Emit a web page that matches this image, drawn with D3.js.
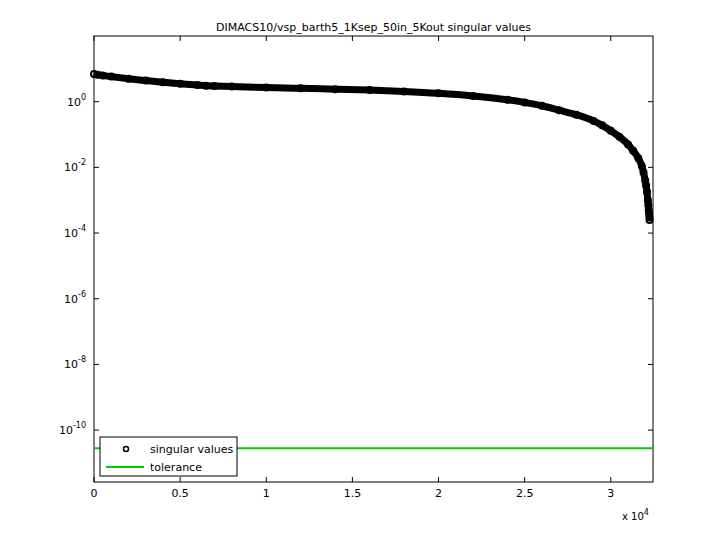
<!DOCTYPE html><html><head><meta charset="utf-8"><script src="https://cdn.jsdelivr.net/npm/d3@7"></script>
<style>body{margin:0;background:#fff}text{font-family:"DejaVu Sans",Arial,sans-serif}</style></head><body><svg id="c" width="720" height="540"></svg>
<script>
const title="DIMACS10/vsp_barth5_1Ksep_50in_5Kout singular values";
const idx=[0,200,500,1000,2000,3000,4000,5000,6000,6500,7000,8000,10000,12000,14000,16000,18000,20000,22000,24000,25000,26000,27000,28000,29000,29500,30000,30500,31000,31300,31600,31800,31900,32000,32050,32100,32150,32180,32200,32220,32240,32250];
const sv=[7,6.6,6.3,5.8,5.0,4.4,3.9,3.5,3.2,3.05,3.0,2.9,2.7,2.55,2.4,2.25,2.05,1.8,1.5,1.15,0.95,0.75,0.55,0.4,0.26,0.19,0.13,0.085,0.05,0.032,0.019,0.011,0.007,0.004,0.0028,0.0018,0.001,0.0007,0.0005,0.0004,0.0003,0.00025];
const tol=2.8e-11;
const xTicks=[0,5000,10000,15000,20000,25000,30000];
const yTicks=[-10,-8,-6,-4,-2,0];
const svg=d3.select("#c");
const L=94,R=653,T=36,B=482;
const x=d3.scaleLinear().domain([0,32450]).range([L,R]);
const y=d3.scaleLog().domain([10**-11.58,100]).range([B,T]);
svg.append("rect").attr("x",L).attr("y",T).attr("width",R-L).attr("height",B-T).attr("fill","#fff").attr("stroke","#000");
const g=svg.append("g");
xTicks.forEach(t=>{g.append("line").attr("x1",x(t)).attr("x2",x(t)).attr("y1",B).attr("y2",B-5).attr("stroke","#000");
g.append("line").attr("x1",x(t)).attr("x2",x(t)).attr("y1",T).attr("y2",T+5).attr("stroke","#000");
g.append("text").attr("x",x(t)).attr("y",B+15).attr("text-anchor","middle").attr("font-size",11).text(t/1e4);});
yTicks.forEach(e=>{const v=10**e;g.append("line").attr("x1",L).attr("x2",L+5).attr("y1",y(v)).attr("y2",y(v)).attr("stroke","#000");
g.append("line").attr("x1",R).attr("x2",R-5).attr("y1",y(v)).attr("y2",y(v)).attr("stroke","#000");
const tx=g.append("text").attr("x",L-8).attr("y",y(v)+4).attr("text-anchor","end").attr("font-size",11);
tx.append("tspan").text("10");tx.append("tspan").attr("dy",-6).attr("font-size",8).text(e);});
svg.append("text").attr("x",622).attr("y",520).attr("font-size",10).text("x 10").append("tspan").attr("dy",-5).attr("font-size",8).text("4");
svg.append("text").attr("x",(L+R)/2).attr("y",31).attr("text-anchor","middle").attr("font-size",11).text(title);
svg.append("line").attr("x1",L).attr("x2",R).attr("y1",y(tol)).attr("y2",y(tol)).attr("stroke","#00cc00").attr("stroke-width",2);
const pts=idx.map((d,i)=>[x(d),y(sv[i])]);
svg.append("path").attr("d",d3.line().curve(d3.curveMonotoneX)(pts)).attr("fill","none").attr("stroke","#000").attr("stroke-width",7);
svg.selectAll("circle.p").data(pts).join("circle").attr("cx",d=>d[0]).attr("cy",d=>d[1]).attr("r",3).attr("fill","none").attr("stroke","#000").attr("stroke-width",2);
const lg=svg.append("g");
lg.append("rect").attr("x",100).attr("y",437).attr("width",137).attr("height",39).attr("fill","#fff").attr("stroke","#000");
lg.append("circle").attr("cx",126).attr("cy",449).attr("r",2.5).attr("fill","none").attr("stroke","#000").attr("stroke-width",1.5);
lg.append("text").attr("x",150).attr("y",453).attr("font-size",11).text("singular values");
lg.append("line").attr("x1",106).attr("x2",144).attr("y1",467).attr("y2",467).attr("stroke","#00cc00").attr("stroke-width",2);
lg.append("text").attr("x",150).attr("y",471).attr("font-size",11).text("tolerance");
</script></body></html>
